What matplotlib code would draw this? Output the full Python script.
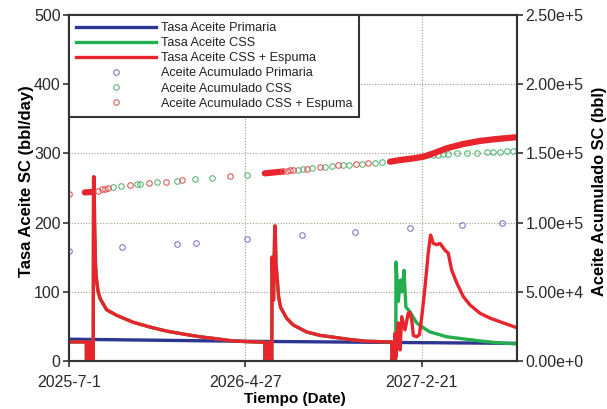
import matplotlib
matplotlib.use("Agg")
import matplotlib.pyplot as plt
from matplotlib.lines import Line2D

plt.rcParams['font.family'] = ['Liberation Sans', 'DejaVu Sans']

# ---------------- data (x = days since 2025-7-1) ----------------
tick_days = [0, 300, 600]
tick_labels = ['2025-7-1', '2026-4-27', '2027-2-21']
x_max_days = 762

# Tasa Aceite Primaria (bbl/day)
days_prim = [0, 150, 300, 450, 600, 762]
rate_prim = [31.5, 30.0, 28.5, 27.5, 26.5, 25.5]

# Tasa Aceite CSS + Espuma (bbl/day)
days_foam = [0, 29.5, 29.6, 34.0, 34.1, 36.0, 36.1, 41.2, 41.8, 42.6, 43.5, 45.0, 46.5, 49.5,
             53, 64, 81, 109, 138, 167, 194, 223, 252, 279, 301, 333,
             333.1, 338.5, 338.6, 340.5, 340.6, 345.0, 345.3, 347.9, 350.0, 350.6, 352.0,
             356.5, 359.7, 370, 381.5, 404, 427, 449, 478, 507, 549,
             549.1, 554.5, 554.6, 556.2, 560, 563, 566, 571.5, 577, 580, 583, 585.7, 591.4,
             596, 600, 605.6, 611, 615, 619.7, 625.4, 631, 639.6, 645, 651, 659.5, 670.7,
             682, 699, 716, 738.7, 762]
rate_foam = [27.5, 27.5, 0, 0, 27.5, 27.5, 0, 0, 266, 266, 200, 140, 120, 100,
             90, 74, 66, 56, 49, 43, 39, 35, 32, 29, 28, 27,
             0, 0, 27, 27, 0, 0, 150, 88, 195, 195, 141,
             93, 78, 62, 52, 42, 37, 34.5, 31, 28.5, 27.5,
             0, 0, 40, 6, 55, 16, 64, 45, 69, 70, 59, 37, 35,
             38, 64, 107, 156, 182, 170, 168, 170, 160, 156, 131, 113, 93,
             81, 69, 62, 55, 48]

# Tasa Aceite CSS (bbl/day) - identical to CSS + Espuma until the third cycle
days_css = days_foam[:48] + [555.8, 556.2, 560, 564, 566.4, 569.8, 573, 580, 591.4, 602.7,
                             614, 642.5, 670.7, 699, 727.5, 762]
rate_css = rate_foam[:48] + [0, 143, 86, 117, 100, 131, 78, 71, 55, 48,
                             42, 35, 32, 29, 26.5, 24.6]

# Aceite Acumulado Primaria (bbl)
days_cum_prim = [0, 90, 184, 216, 303, 396, 486.5, 580, 668.5, 736.5]
cum_prim = [79.5e3, 82.4e3, 84.5e3, 85.3e3, 88.1e3, 91.0e3, 93.2e3, 95.9e3, 98.3e3, 99.9e3]

# Aceite Acumulado CSS (bbl) - report points
days_cum_css = [75, 88.5, 115, 121, 149, 183, 214, 243, 303, 390, 398.5, 413, 435.5, 447,
                466.6, 477, 498, 520.5, 532, 619.7, 628, 636.7, 645, 659.5, 676.5, 693.5,
                710.5, 722, 733, 744.5, 756]
cum_css = [125.5e3, 126.4e3, 127.6e3, 127.9e3, 129.1e3, 130.3e3, 131.5e3, 132.4e3, 134.2e3,
           138.0e3, 138.5e3, 139.2e3, 140.4e3, 140.9e3, 141.6e3, 141.8e3, 142.5e3, 143.1e3,
           143.6e3, 148.6e3, 149.0e3, 149.3e3, 149.6e3, 150.0e3, 150.3e3, 150.6e3, 150.9e3,
           151.1e3, 151.3e3, 151.5e3, 151.7e3]
# Aceite Acumulado CSS (bbl) - dense output during third cycle
days_cum_css_dense = [549, 568, 585, 602, 612]
cum_css_dense = [144.0e3, 145.7e3, 146.5e3, 147.4e3, 148.0e3]

# Aceite Acumulado CSS + Espuma (bbl) - report points
days_cum_foam = [0, 50, 55.6, 61, 67, 104, 136.6, 165, 192, 274, 364.5, 370, 376, 381.5,
                 404, 427, 458, 489, 509]
cum_foam = [121.0e3, 123.1e3, 124.0e3, 124.5e3, 125.0e3, 127.2e3, 128.4e3, 129.6e3, 130.8e3,
            133.4e3, 137.3e3, 137.5e3, 137.8e3, 138.0e3, 138.9e3, 139.9e3, 141.4e3, 142.3e3,
            142.8e3]
# dense output periods (cycles)
days_foam_d1 = [27, 41]
cum_foam_d1 = [121.8e3, 122.2e3]
days_foam_d2 = [333, 362]
cum_foam_d2 = [135.6e3, 136.8e3]
days_foam_d3 = [546, 563, 585.7, 602.7, 619.7, 642.5, 670.7, 699, 727.5, 758.6]
cum_foam_d3 = [144.0e3, 145.2e3, 146.4e3, 147.6e3, 150.0e3, 153.7e3, 156.8e3, 159.0e3,
               160.4e3, 161.6e3]

# ---------------- style ----------------
c_blue = '#2d3593'
c_green = '#22ad4e'
c_red = '#e8242c'
c_purple_m = '#8878c8'
c_green_m = '#5cb87a'
c_red_m = '#e25a5a'
c_spine = '#333333'

fig = plt.figure(figsize=(6.07, 4.09), dpi=100)
ax = fig.add_axes([69 / 607, 1 - 361 / 409, 448 / 607, 346 / 409])
ax2 = ax.twinx()

lw = 2.4
ax.plot(days_prim, rate_prim, color=c_blue, lw=lw, zorder=3)
ax.plot(days_css, rate_css, color=c_green, lw=lw, zorder=4)
ax.plot(days_foam, rate_foam, color=c_red, lw=lw, zorder=5)

ax.set_xlim(0, x_max_days)
ax.set_ylim(0, 500)
ax.set_yticks([0, 100, 200, 300, 400, 500])
ax.set_xticks(tick_days)
ax.set_xticklabels(tick_labels)

ax.grid(True, color='#a89a8a', linestyle=(0, (1, 1.5)), lw=0.8)
ax.set_axisbelow(True)

ms = 4.0
mew = 0.8
ax2.plot(days_cum_prim, cum_prim, 'o', mfc='none', mec=c_purple_m, ms=ms, mew=mew)
ax2.plot(days_cum_css_dense, cum_css_dense, '-', color=c_green_m, lw=3.5,
         solid_capstyle='round')
ax2.plot(days_cum_css, cum_css, 'o', mfc='none', mec=c_green_m, ms=ms, mew=mew)
for dd, cc in [(days_foam_d1, cum_foam_d1), (days_foam_d2, cum_foam_d2),
               (days_foam_d3, cum_foam_d3)]:
    ax2.plot(dd, cc, '-', color=c_red, lw=4.5, solid_capstyle='round')
ax2.plot(days_cum_foam, cum_foam, 'o', mfc='none', mec=c_red_m, ms=ms, mew=mew)

ax2.set_ylim(0, 2.5e5)
ax2.set_yticks([0, 5e4, 1e5, 1.5e5, 2e5, 2.5e5])
ax2.set_yticklabels(['0.00e+0', '5.00e+4', '1.00e+5', '1.50e+5', '2.00e+5', '2.50e+5'])

for a in (ax, ax2):
    for s in a.spines.values():
        s.set_color(c_spine)
        s.set_linewidth(1.5)
    a.tick_params(direction='out', length=4, width=1.2, color=c_spine,
                  labelsize=11.5, labelcolor='#2a2a2a', pad=2)
ax.tick_params(axis='x', pad=6)

ax.set_ylabel('Tasa Aceite SC (bbl/day)', fontsize=12, fontweight='bold')
ax.yaxis.set_label_coords((34 - 69) / 448, 0.52)
ax2.set_ylabel('Aceite Acumulado SC (bbl)', fontsize=11.8, fontweight='bold')
ax2.yaxis.set_label_coords((592 - 69) / 448, 0.49)
ax.set_xlabel('Tiempo (Date)', fontsize=11, fontweight='bold')
ax.xaxis.set_label_coords((295 - 69) / 448, (361 - 392) / 346)

handles = [
    Line2D([], [], color=c_blue, lw=2.4),
    Line2D([], [], color=c_green, lw=2.4),
    Line2D([], [], color=c_red, lw=2.4),
    Line2D([], [], ls='none', marker='o', mfc='none', mec=c_purple_m, ms=ms, mew=mew),
    Line2D([], [], ls='none', marker='o', mfc='none', mec=c_green_m, ms=ms, mew=mew),
    Line2D([], [], ls='none', marker='o', mfc='none', mec=c_red_m, ms=ms, mew=mew),
]
labels = ['Tasa Aceite Primaria', 'Tasa Aceite CSS', 'Tasa Aceite CSS + Espuma',
          'Aceite Acumulado Primaria', 'Aceite Acumulado CSS',
          'Aceite Acumulado CSS + Espuma']
leg = ax2.legend(handles, labels, loc='upper left', bbox_to_anchor=(0, 1),
                 borderaxespad=0, fontsize=9.1, handlelength=6.3, handletextpad=0.4,
                 labelspacing=0.25, borderpad=0.55, frameon=True, fancybox=False,
                 framealpha=1, edgecolor=c_spine, numpoints=1)
leg.get_frame().set_linewidth(1.5)
for t in leg.get_texts():
    t.set_color('#222222')

fig.savefig('out.png', dpi=100)
